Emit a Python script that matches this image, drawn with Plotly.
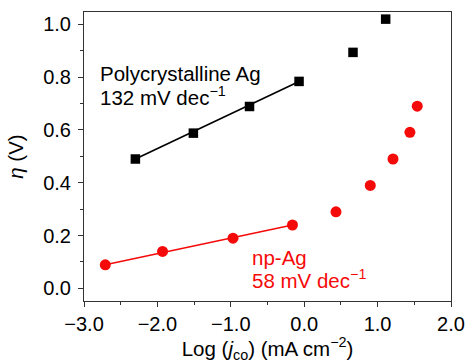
import plotly.graph_objects as go

# Polycrystalline Ag data
poly_x = [-2.30, -1.51, -0.745, -0.07, 0.665, 1.11]
poly_y = [0.490, 0.588, 0.689, 0.784, 0.894, 1.02]
poly_fit_x = [-2.30, -0.07]
poly_fit_y = [0.490, 0.784]

# np-Ag data
np_x = [-2.71, -1.93, -0.97, -0.16, 0.433, 0.90, 1.21, 1.44, 1.54]
np_y = [0.089, 0.140, 0.190, 0.240, 0.290, 0.390, 0.490, 0.591, 0.690]
np_fit_x = [-2.71, -0.16]
np_fit_y = [0.089, 0.240]

x_ticks = [-3.0, -2.0, -1.0, 0.0, 1.0, 2.0]
x_tick_labels = ["\u22123.0", "\u22122.0", "\u22121.0", "0.0", "1.0", "2.0"]
y_ticks = [0.0, 0.2, 0.4, 0.6, 0.8, 1.0]
y_tick_labels = ["0.0", "0.2", "0.4", "0.6", "0.8", "1.0"]

poly_label = ["Polycrystalline Ag", "132 mV dec<sup>\u22121</sup>"]
np_label = ["np-Ag", "58 mV dec<sup>\u22121</sup>"]

RED = "#f50a0a"
FONT = "Liberation Sans, Arial, sans-serif"

fig = go.Figure()
fig.add_trace(go.Scatter(x=poly_fit_x, y=poly_fit_y, mode="lines",
                         line=dict(color="black", width=1.6), showlegend=False))
fig.add_trace(go.Scatter(x=np_fit_x, y=np_fit_y, mode="lines",
                         line=dict(color=RED, width=1.6), showlegend=False))
fig.add_trace(go.Scatter(x=poly_x, y=poly_y, mode="markers",
                         marker=dict(symbol="square", size=9.5, color="black"),
                         showlegend=False))
fig.add_trace(go.Scatter(x=np_x, y=np_y, mode="markers",
                         marker=dict(symbol="circle", size=11, color=RED),
                         showlegend=False))

for txt, yv in zip(poly_label, [0.815, 0.728]):
    fig.add_annotation(x=-2.81, y=yv, xref="x", yref="y", xanchor="left", yanchor="middle",
                       text=txt, showarrow=False, align="left",
                       font=dict(family=FONT, size=20.5, color="black"))
for txt, yv in zip(np_label, [0.118, 0.036]):
    fig.add_annotation(x=-0.745, y=yv, xref="x", yref="y", xanchor="left", yanchor="middle",
                       text=txt, showarrow=False, align="left",
                       font=dict(family=FONT, size=20.5, color=RED))

axis_common = dict(showline=True, linecolor="#333333", linewidth=1, mirror=True,
                   ticks="outside", ticklen=5, tickcolor="#333333", tickwidth=1,
                   showgrid=False, zeroline=False, automargin=False,
                   tickfont=dict(family=FONT, size=20, color="black"))

fig.update_xaxes(range=[-3.0, 2.0], tickvals=x_ticks, ticktext=x_tick_labels,
                 minor=dict(dtick=0.5, ticks="outside", ticklen=3, tickcolor="#333333"),
                 title=dict(text="Log (<i>j</i><sub>co</sub>) (mA cm<sup>\u22122</sup>)",
                            font=dict(family=FONT, size=20.5, color="black"), standoff=5),
                 **axis_common)
fig.update_yaxes(range=[-0.048, 1.047], tickvals=y_ticks, ticktext=y_tick_labels,
                 ticklabelstandoff=3,
                 minor=dict(dtick=0.1, ticks="outside", ticklen=3, tickcolor="#333333"),
                 title=dict(text="<i>\u03b7</i> (V)",
                            font=dict(family=FONT, size=20.5, color="black"), standoff=14),
                 **axis_common)

fig.update_layout(width=465, height=363, margin=dict(l=84, r=14, t=12, b=62),
                  plot_bgcolor="white", paper_bgcolor="white",
                  font=dict(family=FONT))

fig.write_html("out.html", config={"displayModeBar": False},
               post_script="document.body.style.margin='0';document.body.style.overflow='hidden';")
